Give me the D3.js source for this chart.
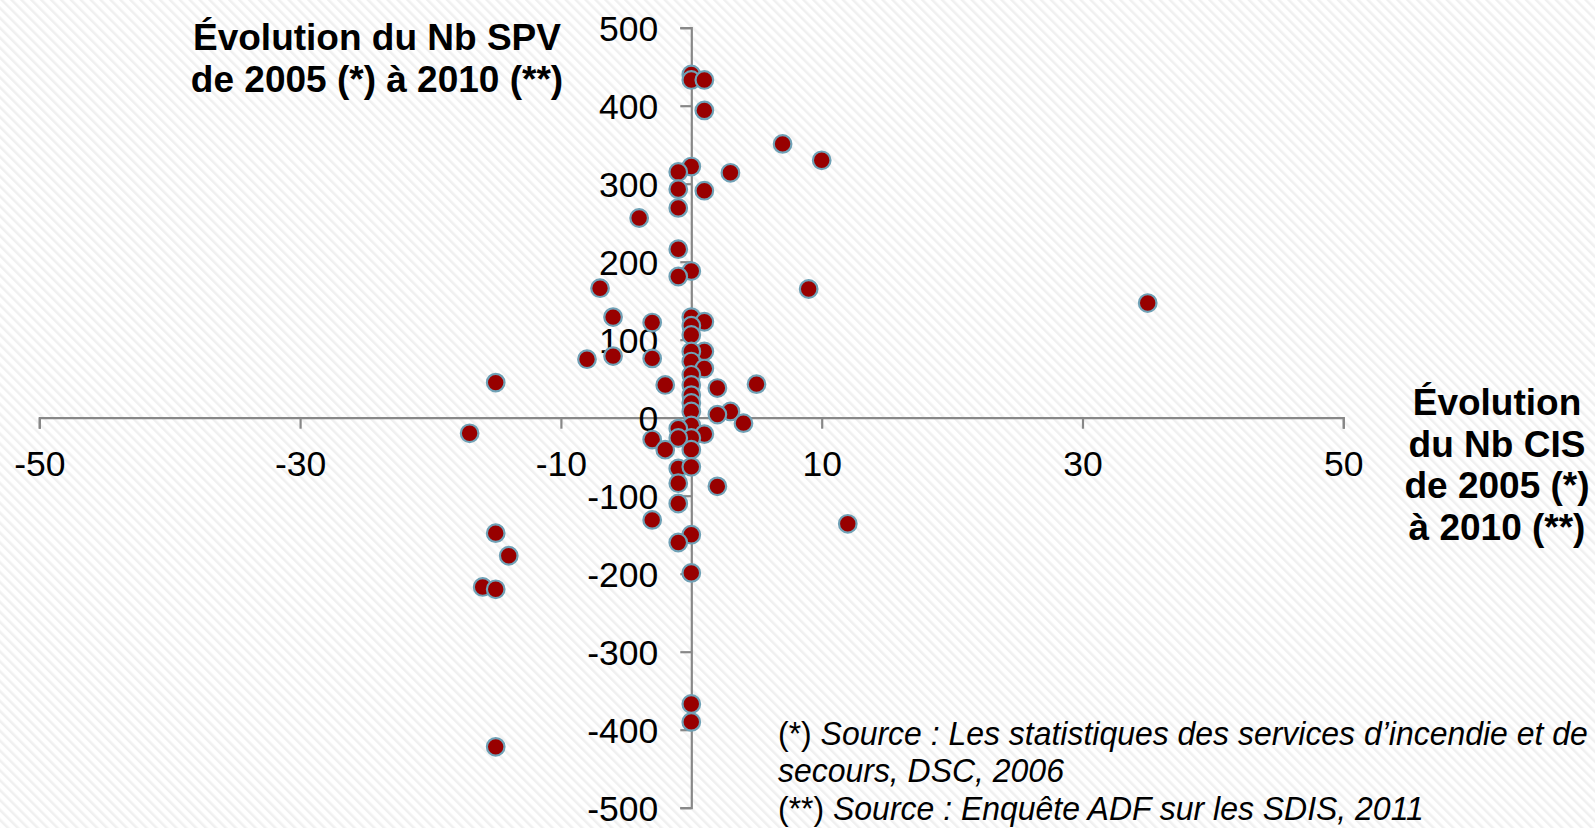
<!DOCTYPE html>
<html>
<head>
<meta charset="utf-8">
<script src="https://cdn.jsdelivr.net/npm/d3@7"></script>
<style>
html,body{margin:0;padding:0;background:#fff;}
svg{display:block;}
</style>
</head>
<body>
<svg id="chart" width="1595" height="828"></svg>
<script>
// Data: change in number of CIS (x) vs change in number of SPV (y), 2005 -> 2010
const cisChange = [0,0,1,1,0,-1,3,-1,1,-1,-4,-1,0,-1,7,10,9,35,-7,-6,-3,0,1,0,0,1,0,0,1,0,-8,-6,-3,-2,2,5,0,0,0,0,3,2,4,-15,-17,
  0,-1,1,0,-1,-3,-2,0,-1,0,-1,2,-1,-3,0,-1,0,0,0,12,-15,-14,-16,-15,-15];
const spvChange = [440,433,433,394,322,315,314,293,291,269,256,216,188,181,351,330,165,147,166,129,122,129,123,118,106,85,85,72,63,55,75,79,76,42,38,43,42,29,19,8,8,4,-7,45,-20,
  -10,-14,-21,-26,-26,-28,-41,-41,-65,-63,-84,-88,-110,-131,-150,-160,-199,-367,-390,-136,-148,-177,-217,-220,-422];
const xTicks = [-50,-30,-10,10,30,50];
const yTicks = [-500,-400,-300,-200,-100,0,100,200,300,400,500];
const yTitle = ["Évolution du Nb SPV","de 2005 (*) à 2010 (**)"];
const xTitle = ["Évolution","du Nb CIS","de 2005 (*)","à 2010 (**)"];
const notes = [
  [["(*) ","normal"],["Source : Les statistiques des services d’incendie et de","italic"]],
  [["secours, DSC, 2006","italic"]],
  [["(**) ","normal"],["Source : Enquête ADF sur les SDIS, 2011","italic"]]
];

const svg = d3.select("#chart");
const defs = svg.append("defs");
const pat = defs.append("pattern").attr("id","hatch").attr("patternUnits","userSpaceOnUse")
  .attr("width",7).attr("height",7).attr("patternTransform","rotate(-45)");
pat.append("rect").attr("width",7).attr("height",7).attr("fill","#ffffff");
pat.append("rect").attr("width",2.5).attr("height",7).attr("fill","#f0f0f0");
svg.append("rect").attr("width",1595).attr("height",828).attr("fill","url(#hatch)");

const x = d3.scaleLinear().domain([-50,50]).range([39.3,1343.3]);
const y = d3.scaleLinear().domain([-500,500]).range([807.7,27.7]);

const font = "'Liberation Sans', Arial, sans-serif";
const axisColor = "#878787";
const fmt = d => String(d);

const gx = svg.append("g").attr("transform",`translate(0,${y(0)})`)
  .call(d3.axisBottom(x).tickValues(xTicks).tickSize(11).tickSizeOuter(11).tickPadding(22).tickFormat(fmt));
const gy = svg.append("g").attr("transform",`translate(${x(0)},0)`)
  .call(d3.axisLeft(y).tickValues(yTicks).tickSize(11).tickSizeOuter(11).tickPadding(22).tickFormat(fmt));
[gx,gy].forEach(g=>{
  g.selectAll("path,line").attr("stroke",axisColor).attr("stroke-width",2.2);
  g.selectAll("text").attr("font-family",font).attr("font-size",35.5).attr("fill","#000");
});
gx.selectAll("text").attr("dy","0.71em");
gy.selectAll("text").attr("dy","0.36em");

const pts = cisChange.map((c,i)=>({c, s: spvChange[i]}));
svg.append("g").selectAll("circle").data(pts).join("circle")
  .attr("cx",d=>x(d.c)).attr("cy",d=>y(d.s)).attr("r",8.8)
  .attr("fill","#980000").attr("stroke","#6fa1b6").attr("stroke-width",2.2);

// Titles
const yt = svg.append("text").attr("font-family",font).attr("font-weight","bold").attr("font-size",37)
  .attr("text-anchor","middle").attr("fill","#000");
yTitle.forEach((t,i)=>yt.append("tspan").attr("x",377).attr("y",50+i*42).text(t));
const xt = svg.append("text").attr("font-family",font).attr("font-weight","bold").attr("font-size",37)
  .attr("text-anchor","middle").attr("fill","#000");
xTitle.forEach((t,i)=>xt.append("tspan").attr("x",1497).attr("y",415+i*41.7).text(t));

// Footnotes
const ng = svg.append("g").attr("transform","translate(778,0) scale(0.94,1)");
const nt = ng.append("text").attr("font-family",font).attr("font-size",34).attr("fill","#000");
notes.forEach((line,i)=>{
  line.forEach((seg,j)=>{
    const ts = nt.append("tspan").attr("font-style",seg[1]).text(seg[0]);
    if(j===0) ts.attr("x",0).attr("y",745+i*37.5);
  });
});
</script>
</body>
</html>
